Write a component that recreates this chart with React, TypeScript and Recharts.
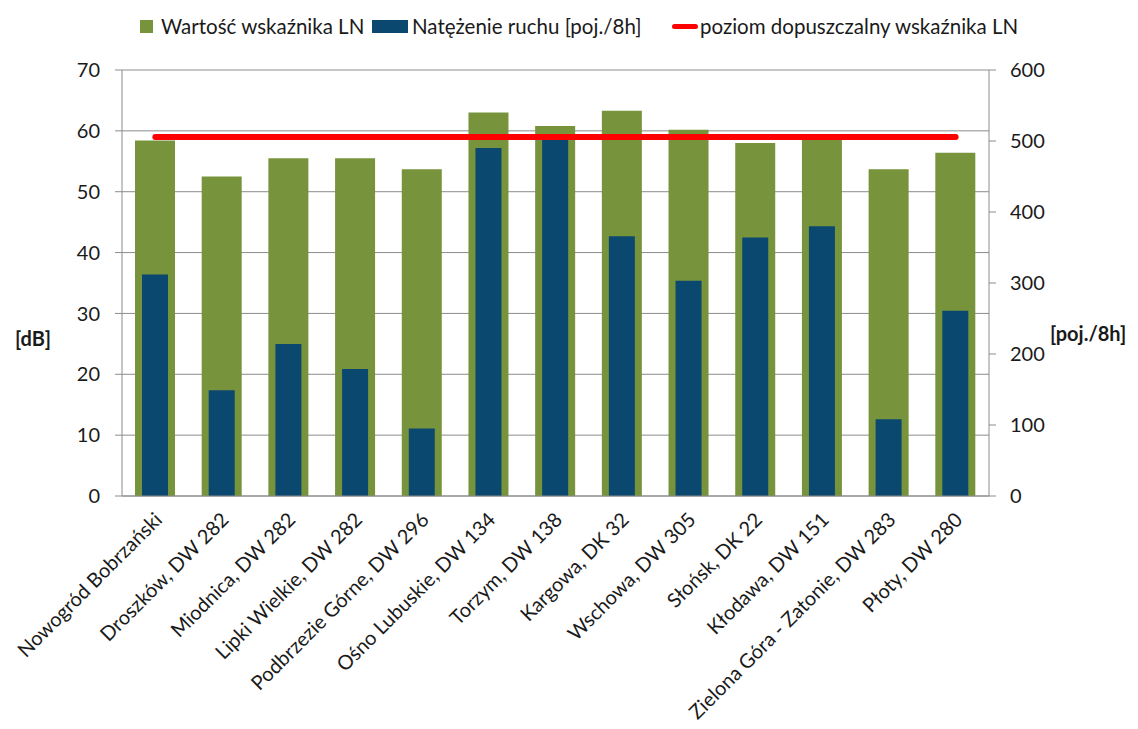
import React from "react";
import { ComposedChart, Bar, Line, XAxis, YAxis, CartesianGrid } from "recharts";

const categories = [
  "Nowogród Bobrzański",
  "Droszków, DW 282",
  "Miodnica, DW 282",
  "Lipki Wielkie, DW 282",
  "Podbrzezie Górne, DW 296",
  "Ośno Lubuskie, DW 134",
  "Torzym, DW 138",
  "Kargowa, DK 32",
  "Wschowa, DW 305",
  "Słońsk, DK 22",
  "Kłodawa, DW 151",
  "Zielona Góra - Zatonie, DW 283",
  "Płoty, DW 280",
];
const lnValues = [58.4, 52.5, 55.5, 55.5, 53.7, 63.0, 60.8, 63.3, 60.2, 58.0, 59.2, 53.7, 56.4];
const trafficValues = [312, 149, 214, 179, 95, 490, 502, 366, 303, 364, 380, 108, 261];
const limitValues = [59, 59, 59, 59, 59, 59, 59, 59, 59, 59, 59, 59, 59];
const leftTicks = [0, 10, 20, 30, 40, 50, 60, 70];
const rightTicks = [0, 100, 200, 300, 400, 500, 600];

const data = categories.map((name, i) => ({
  name,
  ln: lnValues[i],
  traffic: trafficValues[i],
  limit: limitValues[i],
}));

const GREEN = "#77933C";
const BLUE = "#0B4870";
const RED = "#FF0000";
const GRID = "#8C8C8C";
const FONT = "Lato, 'Open Sans', sans-serif";

const XTick = (props: any) => {
  const { x, payload } = props;
  return (
    <g transform={`translate(${x + 8},${521})`}>
      <text
        x={0}
        y={0}
        transform="rotate(-45)"
        textAnchor="end"
        fill="#1a1a1a"
        fontSize={20}
        fontFamily={FONT}
      >
        {payload.value}
      </text>
    </g>
  );
};

const legendText: React.CSSProperties = {
  position: "absolute",
  top: 26,
  transform: "translateY(-50%)",
  fontSize: 20.5,
  fontFamily: FONT,
  color: "#1a1a1a",
  whiteSpace: "nowrap",
  lineHeight: "24px",
};

const titleStyle: React.CSSProperties = {
  position: "absolute",
  transform: "translateY(-50%)",
  fontWeight: "bold",
  fontSize: 20,
  fontFamily: FONT,
  color: "#1a1a1a",
  whiteSpace: "nowrap",
};

export default function App() {
  return (
    <div
      style={{
        position: "absolute",
        left: 0,
        top: 0,
        width: 1138,
        height: 729,
        background: "#fff",
        fontFamily: FONT,
      }}
    >
      {/* legend */}
      <div style={{ position: "absolute", left: 140, top: 20, width: 13, height: 13, background: GREEN }} />
      <div style={{ ...legendText, left: 161 }}>Wartość wskaźnika LN</div>
      <div style={{ position: "absolute", left: 372, top: 20, width: 36, height: 13, background: BLUE }} />
      <div style={{ ...legendText, left: 412 }}>Natężenie ruchu [poj./8h]</div>
      <div
        style={{
          position: "absolute",
          left: 672,
          top: 24,
          width: 26,
          height: 5,
          background: RED,
          borderRadius: 3,
        }}
      />
      <div style={{ ...legendText, left: 700 }}>poziom dopuszczalny wskaźnika LN</div>

      {/* axis titles */}
      <div style={{ ...titleStyle, left: 15, top: 338 }}>[dB]</div>
      <div style={{ ...titleStyle, left: 1050, top: 333 }}>[poj./8h]</div>

      <div style={{ position: "absolute", left: 0, top: 0 }}>
        <ComposedChart
          width={1138}
          height={729}
          data={data}
          margin={{ top: 70, right: 89, left: 62, bottom: 13 }}
        >
          <CartesianGrid yAxisId="left" xAxisId="a" vertical={false} stroke={GRID} strokeWidth={1} />
          <XAxis
            xAxisId="a"
            dataKey="name"
            height={220}
            interval={0}
            tickLine={false}
            tickSize={0}
            tickMargin={0}
            axisLine={{ stroke: GRID }}
            tick={<XTick />}
          />
          <XAxis xAxisId="b" dataKey="name" hide />
          <YAxis
            yAxisId="left"
            domain={[0, 70]}
            ticks={leftTicks}
            width={60}
            tickSize={7}
            tickMargin={15}
            axisLine={{ stroke: GRID }}
            tickLine={{ stroke: GRID }}
            tick={{ fill: "#1a1a1a", fontSize: 20, fontFamily: FONT }}
            interval={0}
          />
          <YAxis
            yAxisId="right"
            orientation="right"
            domain={[0, 600]}
            ticks={rightTicks}
            width={60}
            tickSize={7}
            tickMargin={14}
            axisLine={{ stroke: GRID }}
            tickLine={{ stroke: GRID }}
            tick={{ fill: "#1a1a1a", fontSize: 20, fontFamily: FONT, textAnchor: "start" }}
            interval={0}
          />
          <Bar
            xAxisId="a"
            yAxisId="left"
            dataKey="ln"
            fill={GREEN}
            barSize={40}
            isAnimationActive={false}
          />
          <Bar
            xAxisId="b"
            yAxisId="right"
            dataKey="traffic"
            fill={BLUE}
            barSize={26}
            isAnimationActive={false}
          />
          <Line
            xAxisId="a"
            yAxisId="left"
            dataKey="limit"
            stroke={RED}
            strokeWidth={6}
            strokeLinecap="round"
            dot={false}
            activeDot={false}
            isAnimationActive={false}
          />
        </ComposedChart>
      </div>
    </div>
  );
}
